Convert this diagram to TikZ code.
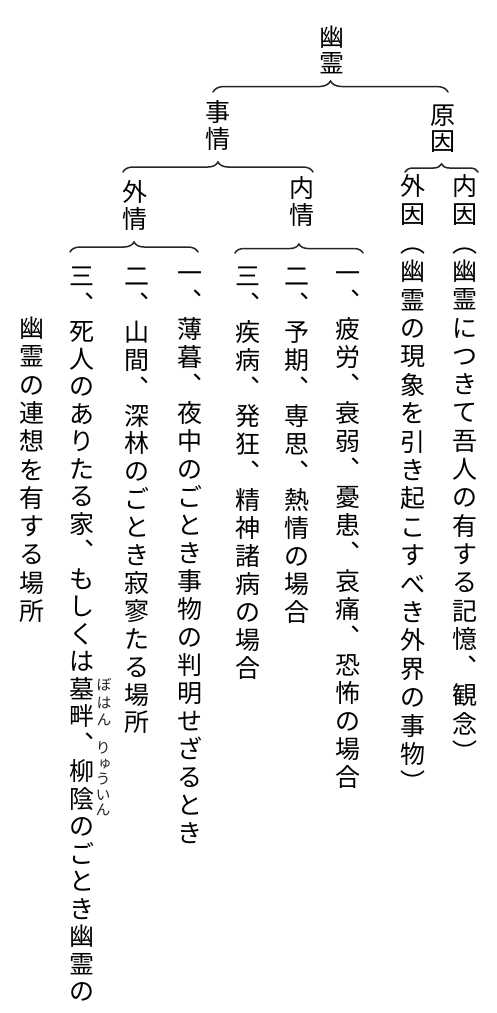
\documentclass[tikz,border=0pt]{standalone}
\usepackage{fontspec}
\newfontfamily\cjk{Noto Sans CJK JP}
\newfontfamily\cjkv{Noto Sans CJK JP}[RawFeature=+vert]
\usetikzlibrary{decorations.pathreplacing}
\ExplSyntaxOn
\int_new:N \l_vc_int
\tl_new:N \l_vc_y_tl
\tl_new:N \l_vc_name_tl
\NewDocumentCommand\vcol{O{ch}mmmmm}
 {
  \int_zero:N \l_vc_int
  \tl_map_inline:nn {#6}
   {
    \int_incr:N \l_vc_int
    \tl_set:Nx \l_vc_y_tl { \fp_eval:n { -(#4) - (\l_vc_int - 1) * (#5) } }
    \tl_set:Nx \l_vc_name_tl { #2-\int_use:N \l_vc_int }
    \node[#1]~(\l_vc_name_tl)~at~(#3,\l_vc_y_tl)~{##1};
   }
 }
\ExplSyntaxOff
\tikzset{
  ch/.style={inner sep=0pt, anchor=center, font=\cjk\fontsize{25pt}{25pt}\selectfont,
    text height=22pt, text depth=3pt},
  rb/.style={inner sep=0pt, anchor=center, font=\cjkv\fontsize{15pt}{15pt}\selectfont,
    text height=13.2pt, text depth=1.8pt, text=black!85},
  brc/.style={decorate, line width=1.5pt, line cap=round, draw=black!85},
}
\begin{document}
\begin{tikzpicture}[x=1pt,y=1pt]
\useasboundingbox[fill=white] (0,0) rectangle (497,-1013);
% headings
\vcol{h1}{332}{37}{26}{幽霊}
\vcol{h2}{443}{115}{26}{原因}
\vcol{h3}{218}{112}{27}{事情}
\vcol{h4}{302}{188}{27}{内情}
\vcol{h5}{135}{192}{27}{外情}
% columns
\vcol{A}{465}{186}{28.3}{内因︵幽霊につきて吾人の有する記憶︑観念︶}
\vcol{B}{413}{186}{28.4}{外因︵幽霊の現象を引き起こすべき外界の事物︶}
\vcol{C}{348}{273}{28}{一︑疲労︑衰弱︑憂患︑哀痛︑恐怖の場合}
\vcol{D}{297}{276}{28}{二︑予期︑専思︑熱情の場合}
\vcol{E}{248}{276}{28}{三︑疾病︑発狂︑精神諸病の場合}
\vcol{F}{190}{273}{28}{一︑薄暮︑夜中のごとき事物の判明せざるとき}
\vcol{G}{137}{276}{27.9}{二︑山間︑深林のごとき寂寥たる場所}
\vcol{H}{82}{276}{27.5}{三︑死人のありたる家︑もしくは墓畔︑柳陰のごとき幽霊の}
\vcol{I}{32}{328}{28.3}{幽霊の連想を有する場所}
% ruby
\vcol[rb]{r1}{104}{685}{17.5}{ぼはん}
\vcol[rb]{r2}{103}{748}{15.5}{りゅういん}
% braces
\coordinate (b1l) at (213,-92);  \coordinate (b1r) at (448,-92);
\coordinate (b2l) at (405,-172); \coordinate (b2r) at (478,-172);
\coordinate (b3l) at (123,-172); \coordinate (b3r) at (313,-172);
\coordinate (b4l) at (70,-252);  \coordinate (b4r) at (198,-252);
\coordinate (b5l) at (235,-253); \coordinate (b5r) at (363,-253);
\draw[brc, decoration={brace, amplitude=11pt}] (b1l) -- (b1r);
\draw[brc, decoration={brace, amplitude=8pt}] (b2l) -- (b2r);
\draw[brc, decoration={brace, amplitude=10pt}] (b3l) -- (b3r);
\draw[brc, decoration={brace, amplitude=10pt}] (b4l) -- (b4r);
\draw[brc, decoration={brace, amplitude=9pt}] (b5l) -- (b5r);
\end{tikzpicture}
\end{document}
